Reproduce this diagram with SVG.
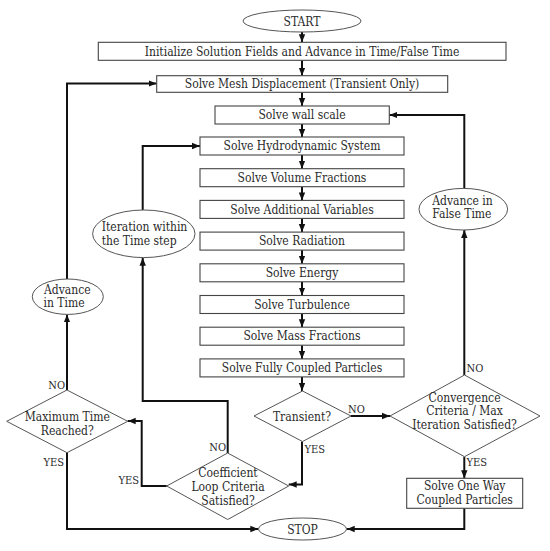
<svg xmlns="http://www.w3.org/2000/svg" width="550" height="551" viewBox="0 0 550 551">
<style>
text{font-family:"DejaVu Serif Condensed","DejaVu Serif","Liberation Serif",serif;font-stretch:condensed;font-size:12px;fill:#2a2a2a;text-anchor:middle}
.lbl{font-size:11px}
.s{text-anchor:start}
.e{text-anchor:end}
.box{fill:#fff;stroke:#444;stroke-width:1.1}
.shape{fill:#fff;stroke:#555;stroke-width:1}
.con{fill:none;stroke:#111;stroke-width:2}
</style>
<defs>
<marker id="ah" markerUnits="userSpaceOnUse" markerWidth="8" markerHeight="8" viewBox="0 0 8 8" refX="8" refY="4" orient="auto">
<path d="M0,0.8 L8,4 L0,7.2 Z" fill="#111"/>
</marker>
</defs>
<rect width="550" height="551" fill="#fff"/>
<g id="connectors">
<path class="con" d="M302,31.7 V42.3" marker-end="url(#ah)"/>
<path class="con" d="M302,60.3 V75.7" marker-end="url(#ah)"/>
<path class="con" d="M302,92.3 V106" marker-end="url(#ah)"/>
<path class="con" d="M302,124 V137" marker-end="url(#ah)"/>
<path class="con" d="M302,155 V168.7" marker-end="url(#ah)"/>
<path class="con" d="M302,186.7 V200.4" marker-end="url(#ah)"/>
<path class="con" d="M302,218.4 V232.1" marker-end="url(#ah)"/>
<path class="con" d="M302,250.1 V263.8" marker-end="url(#ah)"/>
<path class="con" d="M302,281.8 V295.5" marker-end="url(#ah)"/>
<path class="con" d="M302,313.5 V327.2" marker-end="url(#ah)"/>
<path class="con" d="M302,345.2 V358.9" marker-end="url(#ah)"/>
<path class="con" d="M302,376.9 V391" marker-end="url(#ah)"/>
<path class="con" d="M351,416 H390" marker-end="url(#ah)"/>
<path class="con" d="M302,441.5 V484.5 H288.7" marker-end="url(#ah)"/>
<path class="con" d="M227.7,453 V401 H142.7 V257.7" marker-end="url(#ah)"/>
<path class="con" d="M142.7,210 V146 H200" marker-end="url(#ah)"/>
<path class="con" d="M166.7,486 H141.7 V421 H127.7" marker-end="url(#ah)"/>
<path class="con" d="M67,390 V314.4" marker-end="url(#ah)"/>
<path class="con" d="M67,279 V83.5 H156.7" marker-end="url(#ah)"/>
<path class="con" d="M67,452.7 V529 H258.3" marker-end="url(#ah)"/>
<path class="con" d="M464.3,375 V230" marker-end="url(#ah)"/>
<path class="con" d="M464.3,188.4 V115 H389.3" marker-end="url(#ah)"/>
<path class="con" d="M464.3,456.7 V478.3" marker-end="url(#ah)"/>
<path class="con" d="M464.3,508.3 V529 H346.7" marker-end="url(#ah)"/>
</g>
<g id="labels">
<text class="lbl e" x="65" y="389">NO</text>
<text class="lbl e" x="64" y="466">YES</text>
<text class="lbl e" x="139" y="484">YES</text>
<text class="lbl e" x="226" y="451">NO</text>
<text class="lbl s" x="348" y="412.5">NO</text>
<text class="lbl s" x="304.5" y="452.5">YES</text>
<text class="lbl s" x="466.5" y="372">NO</text>
<text class="lbl s" x="466.5" y="466">YES</text>
</g>
<g id="start">
<ellipse class="shape" cx="302" cy="21" rx="59" ry="11"/>
<text x="302" y="25.5">START</text>
</g>
<g id="init">
<rect class="box" x="98.3" y="42.3" width="407.7" height="18"/>
<text x="302" y="55.5">Initialize Solution Fields and Advance in Time/False Time</text>
</g>
<g id="mesh">
<rect class="box" x="156.7" y="75.7" width="291" height="16.6"/>
<text x="302" y="88.3">Solve Mesh Displacement (Transient Only)</text>
</g>
<g id="wall">
<rect class="box" x="215" y="106" width="174.3" height="18"/>
<text x="302" y="119.2">Solve wall scale</text>
</g>
<g id="hydro">
<rect class="box" x="200" y="137" width="204" height="18"/>
<text x="302" y="150.2">Solve Hydrodynamic System</text>
</g>
<g id="volfrac">
<rect class="box" x="200" y="168.7" width="204" height="18"/>
<text x="302" y="181.9">Solve Volume Fractions</text>
</g>
<g id="addvar">
<rect class="box" x="200" y="200.4" width="204" height="18"/>
<text x="302" y="213.6">Solve Additional Variables</text>
</g>
<g id="radiation">
<rect class="box" x="200" y="232.1" width="204" height="18"/>
<text x="302" y="245.3">Solve Radiation</text>
</g>
<g id="energy">
<rect class="box" x="200" y="263.8" width="204" height="18"/>
<text x="302" y="277">Solve Energy</text>
</g>
<g id="turbulence">
<rect class="box" x="200" y="295.5" width="204" height="18"/>
<text x="302" y="308.7">Solve Turbulence</text>
</g>
<g id="massfrac">
<rect class="box" x="200" y="327.2" width="204" height="18"/>
<text x="302" y="340.4">Solve Mass Fractions</text>
</g>
<g id="fullycoupled">
<rect class="box" x="200" y="358.9" width="204" height="18"/>
<text x="302" y="372.1">Solve Fully Coupled Particles</text>
</g>
<g id="transient">
<polygon class="shape" points="302.5,391 351,416 302.5,441.5 254,416"/>
<text x="302" y="420.5">Transient?</text>
</g>
<g id="convergence">
<polygon class="shape" points="464.5,375 540,416 464.5,456.7 390,416"/>
<text x="464.5" y="401.5">Convergence</text>
<text x="464.5" y="415">Criteria / Max</text>
<text x="464.5" y="428.5">Iteration Satisfied?</text>
</g>
<g id="oneway">
<rect class="box" x="406.7" y="478.3" width="116" height="30"/>
<text x="464.7" y="490">Solve One Way</text>
<text x="464.7" y="504.3">Coupled Particles</text>
</g>
<g id="stop">
<ellipse class="shape" cx="302.5" cy="529" rx="44" ry="11"/>
<text x="302.5" y="533.5">STOP</text>
</g>
<g id="coefficient">
<polygon class="shape" points="227.7,453 288.7,486 227.7,519.5 166.7,486"/>
<text x="228" y="477">Coefficient</text>
<text x="228" y="490.5">Loop Criteria</text>
<text x="228" y="504.5">Satisfied?</text>
</g>
<g id="maxtime">
<polygon class="shape" points="67,390 127.7,421.3 67,452.7 6.7,421.3"/>
<text x="67.3" y="421">Maximum Time</text>
<text x="67.3" y="434.5">Reached?</text>
</g>
<g id="advtime">
<ellipse class="shape" cx="67.8" cy="296.7" rx="35.5" ry="17.7"/>
<text class="s" x="44" y="293.5">Advance</text>
<text class="s" x="43.5" y="307">in Time</text>
</g>
<g id="iteration">
<ellipse class="shape" cx="143.8" cy="233.8" rx="51.2" ry="23.8"/>
<text class="s" x="101.7" y="231">Iteration within</text>
<text class="s" x="101.7" y="244.5">the Time step</text>
</g>
<g id="advfalse">
<ellipse class="shape" cx="463.3" cy="209.2" rx="44.3" ry="20.8"/>
<text class="s" x="432.3" y="204.5">Advance in</text>
<text class="s" x="432.3" y="218">False Time</text>
</g>
</svg>
